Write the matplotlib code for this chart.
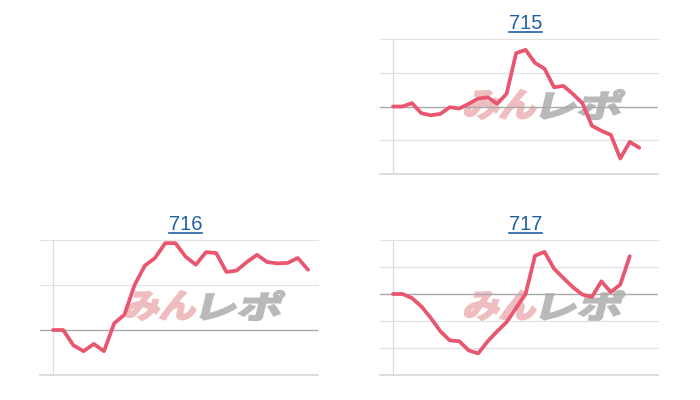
import matplotlib
matplotlib.use("Agg")
import matplotlib.pyplot as plt
from matplotlib.textpath import TextPath
from matplotlib.font_manager import FontProperties
from matplotlib.patches import PathPatch
from matplotlib.transforms import Affine2D
from matplotlib.lines import Line2D

# ---- data ----
titles = ["715", "716", "717"]
s715 = [0, 0, 0.1, -0.2, -0.26, -0.22, -0.02, -0.06, 0.08, 0.24, 0.27, 0.08, 0.38,
        1.58, 1.68, 1.29, 1.12, 0.57, 0.61, 0.37, 0.1, -0.57, -0.72, -0.84, -1.54,
        -1.05, -1.22]
s716 = [0, 0, -0.34, -0.47, -0.31, -0.47, 0.15, 0.34, 1.0, 1.43, 1.6, 1.93, 1.93,
        1.63, 1.45, 1.73, 1.71, 1.29, 1.32, 1.51, 1.67, 1.51, 1.48, 1.49, 1.6, 1.34]
s717 = [0, 0, -0.15, -0.46, -0.89, -1.38, -1.72, -1.75, -2.09, -2.2, -1.75, -1.38,
        -1.04, -0.52, 0.0, 1.42, 1.56, 0.94, 0.59, 0.25, -0.02, -0.11, 0.47, 0.07,
        0.35, 1.4]
yticks715 = [-2, -1, 0, 1, 2]
yticks716 = [-1, 0, 1, 2]
yticks717 = [-3, -2, -1, 0, 1, 2]
series = [s715, s716, s717]
yticks_all = [yticks715, yticks716, yticks717]

W, H = 700, 400
fig = plt.figure(figsize=(7, 4), dpi=100)
fig.patch.set_facecolor("white")

LINE_COLOR = "#e8566f"
TITLE_COLOR = "#1f5fa6"

# axes boxes in pixels: (left, top, right, bottom), x-origin pixel, x pixel step
boxes = [
    (380, 39, 658, 174, 393, 9.47),
    (40, 240, 318, 375, 53, 10.2),
    (380, 240, 658, 375, 393, 9.47),
]

fp_wm = FontProperties(family="Noto Sans CJK JP", weight="bold")


def watermark(x_left, y_top):
    Hh = 29.0
    parts = [("みん", "#efbcc0", 70.0, 0.0), ("レポ", "#b9b9b9", 78.0, 77.0)]
    for txt, col, wdt, off in parts:
        p = TextPath((0, 0), txt, size=100, prop=fp_wm)
        b = p.get_extents()
        tr = (Affine2D().translate(-b.x0, -b.y0)
              .scale(wdt / b.width, Hh / b.height)
              .skew_deg(14, 0)
              .translate(x_left + off, H - y_top - Hh)
              .scale(1.0 / W, 1.0 / H)) + fig.transFigure
        patch = PathPatch(p, facecolor=col, edgecolor=col, lw=1.6,
                          joinstyle="miter", transform=tr, zorder=-1)
        fig.add_artist(patch)


axes = []
for (l, t, r, b, x0, step), data, yt, ttl in zip(boxes, series, yticks_all, titles):
    ax = fig.add_axes([l / W, (H - b) / H, (r - l) / W, (b - t) / H])
    ax.set_facecolor("none")
    xs = list(range(len(data)))
    ax.set_xlim(-(x0 - l) / step, (r - x0) / step)
    ax.set_ylim(min(yt), max(yt))
    for v in yt:
        if v == 0:
            ax.axhline(v, color="#a9a9a9", lw=1.0, zorder=1)
        elif v == min(yt):
            ax.axhline(v, color="#d2d2d2", lw=1.1, zorder=1, clip_on=False)
        else:
            ax.axhline(v, color="#e2e2e2", lw=0.9, zorder=1, clip_on=False)
    ax.axvline(0, color="#dcdcdc", lw=0.9, zorder=1)
    ax.plot(xs, data, color=LINE_COLOR, lw=2.7, solid_joinstyle="round",
            solid_capstyle="round", zorder=3, clip_on=False)
    for s in ax.spines.values():
        s.set_visible(False)
    ax.set_xticks([])
    ax.set_yticks([])
    cx = (x0 + r) / 2.0
    base = t - 10.0
    txt = fig.text(cx / W, (H - base) / H, ttl, ha="center", va="baseline",
                   fontsize=14.5, color=TITLE_COLOR, family="Liberation Sans")
    axes.append((ax, txt, base))
    watermark(x0 + 70, t + 51)

fig.canvas.draw()
renderer = fig.canvas.get_renderer()
for ax, txt, base in axes:
    bb = txt.get_window_extent(renderer)
    yb = (H - base - 2.5) / H
    fig.add_artist(Line2D([bb.x0 / W, bb.x1 / W], [yb, yb], color=TITLE_COLOR, lw=1.2))

fig.savefig("out.png", dpi=100, facecolor="white")
